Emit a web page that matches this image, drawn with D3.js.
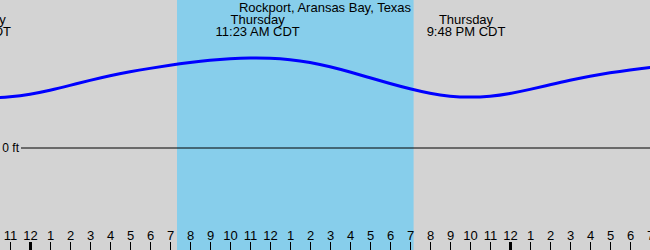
<!DOCTYPE html>
<html>
<head>
<meta charset="utf-8">
<script src="https://cdn.jsdelivr.net/npm/d3@7"></script>
<style>
  body { margin: 0; padding: 0; background: #fff; }
  svg { display: block; font-family: "Liberation Sans", Arial, sans-serif; }
</style>
</head>
<body>
<svg width="650" height="250"></svg>
<script>
var title = 'Rockport, Aransas Bay, Texas';

// hours after Thursday midnight, tide height in feet
var tideHours = [-4, -3, -2, -1, 0, 1, 2, 3, 4, 5, 6, 7, 8, 9, 10, 11, 12, 13, 14, 15, 16,
	17, 18, 19, 20, 21, 22, 23, 24, 25, 26, 27, 28, 29, 30, 31, 32];
var tideFeet = [0.56, 0.55, 0.553, 0.567, 0.595, 0.64, 0.695, 0.752, 0.805, 0.848, 0.885, 0.92,
	0.95, 0.976, 0.993, 1.002, 1.0, 0.984, 0.952, 0.905, 0.845, 0.78, 0.716, 0.657, 0.605,
	0.572, 0.562, 0.572, 0.604, 0.65, 0.703, 0.754, 0.798, 0.836, 0.868, 0.895, 0.918];

// high / low tide events
var eventHours = [-2.92, 11.383, 21.8];
var eventDays = ['Wednesday', 'Thursday', 'Thursday'];
var eventTimes = ['9:05 PM CDT', '11:23 AM CDT', '9:48 PM CDT'];

// sunrise / sunset
var sunrise = 7.35;
var sunset = 19.18;

// hour ticks along the bottom
var tickHours = d3.range(-1, 32);

var svg = d3.select('svg');
var W = +svg.attr('width'), H = +svg.attr('height');

var x = d3.scaleLinear().domain([-1.5, 31]).range([0, W]);
var y = d3.scaleLinear().domain([0, 1]).range([148, 58]);

// background
svg.append('rect')
	.attr('width', W).attr('height', H)
	.attr('fill', '#d3d3d3');

// daylight band
svg.append('rect')
	.attr('x', x(sunrise))
	.attr('y', 0)
	.attr('width', x(sunset) - x(sunrise))
	.attr('height', H)
	.attr('fill', '#87ceeb');

// zero line
svg.append('line')
	.attr('x1', 21).attr('x2', W)
	.attr('y1', y(0)).attr('y2', y(0))
	.attr('stroke', '#000').attr('stroke-width', 1);

svg.append('text')
	.attr('x', 19).attr('y', y(0) + 4)
	.attr('text-anchor', 'end')
	.attr('font-size', 12)
	.text('0 ft');

// tide curve
var line = d3.line()
	.x(function(d, i){ return x(tideHours[i]); })
	.y(function(d){ return y(d); })
	.curve(d3.curveBasis);

svg.append('path')
	.datum(tideFeet)
	.attr('d', line)
	.attr('fill', 'none')
	.attr('stroke', '#0000ff')
	.attr('stroke-width', 3);

// hour axis
function hourAxis(g){
	var axis = d3.axisTop(x)
		.tickValues(tickHours)
		.tickSize(8)
		.tickPadding(2)
		.tickFormat(function(h){
			var hh = ((h % 12) + 12) % 12;
			return hh == 0 ? '12' : String(hh);
		});
	g.call(axis);
	g.select('.domain').remove();
	g.selectAll('.tick line')
		.attr('stroke', '#000')
		.attr('stroke-width', function(h){ return h % 24 == 0 ? 3 : 1; });
	g.selectAll('text')
		.attr('fill', '#000')
		.attr('font-size', 13)
		.attr('font-family', '"Liberation Sans", Arial, sans-serif');
}

svg.append('g')
	.attr('transform', 'translate(0,' + H + ')')
	.call(hourAxis);

// event labels
var ev = svg.append('g').selectAll('g')
	.data(eventHours)
	.enter().append('g')
	.attr('transform', function(h){ return 'translate(' + x(h) + ',0)'; });

ev.append('text')
	.attr('y', 24)
	.attr('text-anchor', 'middle')
	.attr('font-size', 13)
	.text(function(d, i){ return eventDays[i]; });

ev.append('text')
	.attr('y', 36)
	.attr('text-anchor', 'middle')
	.attr('font-size', 13)
	.text(function(d, i){ return eventTimes[i]; });

// title
svg.append('text')
	.attr('x', W / 2)
	.attr('y', 12)
	.attr('text-anchor', 'middle')
	.attr('font-size', 13)
	.text(title);
</script>
</body>
</html>
